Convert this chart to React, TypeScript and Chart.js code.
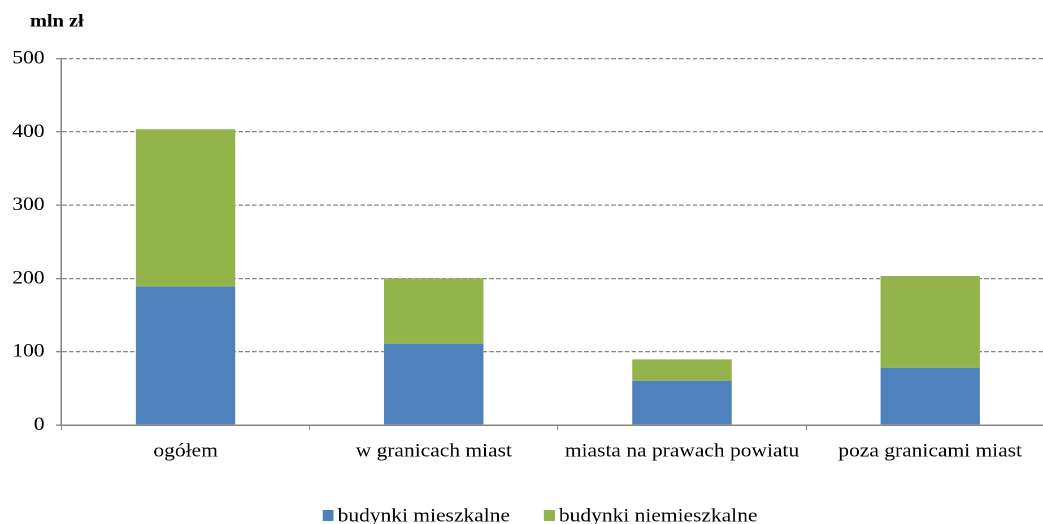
import React, { useEffect, useRef } from "react";
import { Chart, registerables } from "chart.js";

Chart.register(...registerables);

// ---- data ----
const categories = [
  "ogółem",
  "w granicach miast",
  "miasta na prawach powiatu",
  "poza granicami miast",
];
const seriesNames = ["budynki mieszkalne", "budynki niemieszkalne"];
const mieszkalne = [188.8, 110.8, 60.4, 78.0];
const niemieszkalne = [214.6, 89.3, 29.2, 125.3];
const yTicks = [0, 100, 200, 300, 400, 500];
const unitLabel = "mln zł";

// ---- layout / style ----
const SX = 1.13; // horizontal stretch of the reference rendering
const W = 956;
const H = 524;
const FONT = '"Liberation Serif", "Times New Roman", serif';
const GRID = "#868686";
const BLUE = "#4F81BD";
const GREEN = "#92B44B";

const unitPlugin = {
  id: "unitLabel",
  afterDraw(chart: any) {
    const ctx = chart.ctx;
    ctx.save();
    ctx.font = `bold 18px ${FONT}`;
    ctx.fillStyle = "#000";
    ctx.textBaseline = "middle";
    ctx.textAlign = "left";
    ctx.fillText(unitLabel, 26.5, 22);
    ctx.restore();
  },
};

// legend drawn from the datasets (labels + colours), centred under the chart
const legendPlugin = {
  id: "bottomLegend",
  afterDraw(chart: any) {
    const ctx = chart.ctx;
    const sets = chart.data.datasets;
    const boxW = 9.7;
    const boxH = 11;
    const gap = 3.6;
    const spacing = 30;
    const cy = 515.5;
    ctx.save();
    ctx.font = `19px ${FONT}`;
    const widths = sets.map((d: any) => boxW + gap + ctx.measureText(d.label).width);
    const total = widths.reduce((a: number, b: number) => a + b, 0) + spacing * (sets.length - 1);
    let x = 540 / SX - total / 2;
    sets.forEach((d: any, i: number) => {
      ctx.fillStyle = d.backgroundColor;
      ctx.fillRect(x, cy - boxH / 2, boxW, boxH);
      ctx.fillStyle = "#000";
      ctx.textBaseline = "middle";
      ctx.textAlign = "left";
      ctx.fillText(d.label, x + boxW + gap, cy + 1);
      x += widths[i] + spacing;
    });
    ctx.restore();
  },
};

export default function App() {
  const ref = useRef<HTMLCanvasElement | null>(null);

  useEffect(() => {
    if (!ref.current) return;
    const chart = new Chart(ref.current, {
      type: "bar",
      data: {
        labels: categories,
        datasets: [
          {
            label: seriesNames[0],
            data: mieszkalne,
            backgroundColor: BLUE,
            borderWidth: 0,
            barPercentage: 0.4,
            categoryPercentage: 1,
          },
          {
            label: seriesNames[1],
            data: niemieszkalne,
            backgroundColor: GREEN,
            borderWidth: 0,
            barPercentage: 0.4,
            categoryPercentage: 1,
          },
        ],
      },
      options: {
        responsive: false,
        animation: false,
        devicePixelRatio: 2,
        layout: { padding: { top: 58.5, left: 0, right: 23, bottom: 49 } },
        plugins: {
          tooltip: { enabled: false },
          title: { display: false },
          legend: { display: false },
        },
        scales: {
          x: {
            stacked: true,
            afterFit: (s: any) => {
              s.height = 50;
            },
            grid: {
              display: true,
              offset: true,
              drawOnChartArea: false,
              drawTicks: true,
              tickLength: 5,
              color: GRID,
            },
            border: { display: true, color: GRID, width: 1.5 },
            ticks: {
              color: "#000",
              padding: 10,
              maxRotation: 0,
              autoSkip: false,
              font: { family: FONT, size: 19 },
            },
          },
          y: {
            stacked: true,
            min: 0,
            max: 500,
            afterFit: (s: any) => {
              s.width = 54.4;
            },
            afterBuildTicks: (s: any) => {
              s.ticks = yTicks.map((v) => ({ value: v }));
            },
            grid: {
              color: GRID,
              lineWidth: 1.3,
              drawTicks: true,
              tickLength: 5,
              tickBorderDash: [],
            },
            border: { display: true, color: GRID, width: 1.5, dash: [4, 2] },
            ticks: {
              color: "#000",
              padding: 10,
              font: { family: FONT, size: 19 },
            },
          },
        },
      },
      plugins: [unitPlugin, legendPlugin],
    });
    return () => chart.destroy();
  }, []);

  return (
    <div
      style={{
        position: "fixed",
        left: 0,
        top: 0,
        width: 1043,
        height: 524,
        overflow: "hidden",
        background: "#fff",
      }}
    >
      <div
        style={{
          width: W,
          height: H,
          transform: `scaleX(${SX})`,
          transformOrigin: "0 0",
        }}
      >
        <canvas ref={ref} width={W} height={H} style={{ width: W, height: H, display: "block" }} />
      </div>
    </div>
  );
}
